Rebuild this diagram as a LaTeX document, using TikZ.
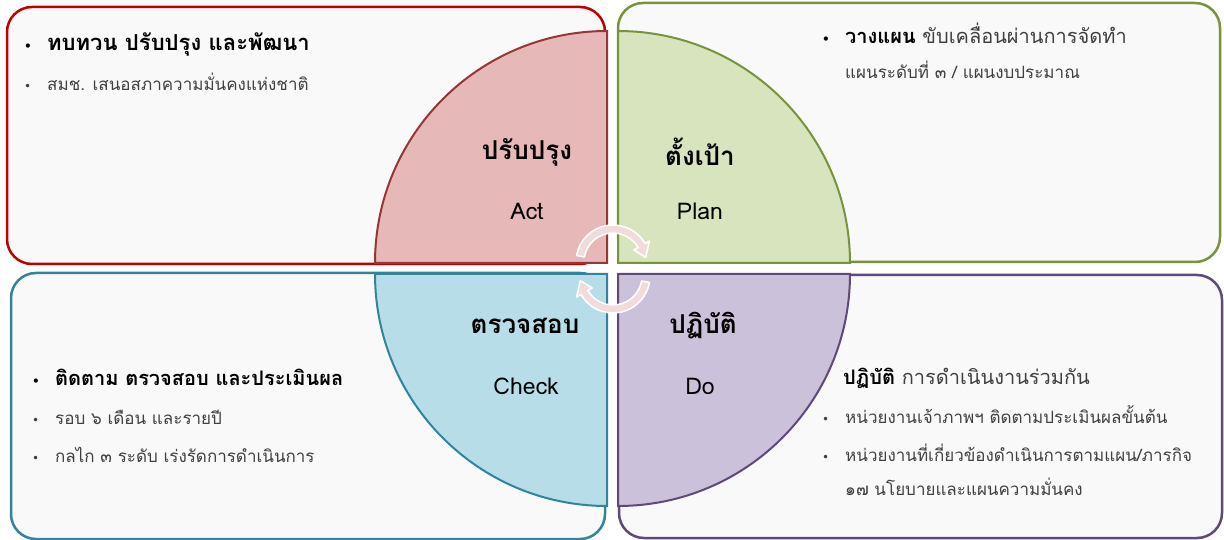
\documentclass[tikz,border=0pt]{standalone}
\usepackage{fontspec}
\setmainfont[Script=Thai]{Loma}
\newfontfamily\bulfont{DejaVu Sans}
\definecolor{panelbg}{HTML}{F9F9F9}
\definecolor{actline}{HTML}{C00000}
\definecolor{planline}{HTML}{77933C}
\definecolor{checkline}{HTML}{31849B}
\definecolor{doline}{HTML}{5F497A}
\definecolor{actedge}{HTML}{953735}
\definecolor{actfill}{HTML}{E6B9B8}
\definecolor{planfill}{HTML}{D7E4BD}
\definecolor{checkfill}{HTML}{B7DEE8}
\definecolor{dofill}{HTML}{CCC1DA}
\definecolor{arrowfill}{HTML}{F2DCDB}
\definecolor{itemgray}{HTML}{404040}
\newcommand{\bul}{\makebox[23pt][l]{\bulfont\fontsize{12}{12}\selectfont •}}

\begin{document}
\begin{tikzpicture}[x=1pt, y=-1pt,
  panel/.style={rounded corners=25, fill=panelbg, line width=2.5},
  quarter/.style={line width=2},
  cyclearrow/.style={fill=arrowfill, draw=white, line width=1.5, line join=round},
  qthai/.style={font=\bfseries\fontsize{26}{30}\selectfont},
  qeng/.style={font=\fontsize{23}{27}\selectfont},
  head/.style={anchor=base west, inner sep=0, font=\bfseries\fontsize{20}{24}\selectfont},
  item/.style={anchor=base west, inner sep=0, text=itemgray, font=\fontsize{17}{20}\selectfont}]
\useasboundingbox (0,0) rectangle (1224,540);
\fill[white] (0,0) rectangle (1224,540);

\draw[panel, draw=actline] (7,7) rectangle (605,264);
\draw[panel, draw=planline] (618,3) rectangle (1220,262);
\draw[panel, draw=checkline] (11,273) rectangle (605,539);
\draw[panel, draw=doline] (619,275) rectangle (1222,538);

\filldraw[quarter, draw=actedge, fill=actfill] (607,263) -- (375,263) arc[start angle=180, end angle=270, radius=232] -- cycle;
\filldraw[quarter, draw=planline, fill=planfill] (618,263) -- (618,31) arc[start angle=270, end angle=360, radius=232] -- cycle;
\filldraw[quarter, draw=doline, fill=dofill] (618,274) -- (850,274) arc[start angle=0, end angle=90, radius=232] -- cycle;
\filldraw[quarter, draw=checkline, fill=checkfill] (607,274) -- (607,506) arc[start angle=90, end angle=180, radius=232] -- cycle;

\filldraw[cyclearrow, shift={(613,262)}] (190:37) arc[start angle=190, end angle=330, radius=37]
  -- (330:42) -- (352:33) -- (330:24) -- (330:29) arc[start angle=330, end angle=190, radius=29] -- cycle;
\filldraw[cyclearrow, shift={(613,276)}] (10:37) arc[start angle=10, end angle=150, radius=37]
  -- (150:42) -- (172:33) -- (150:24) -- (150:29) arc[start angle=150, end angle=10, radius=29] -- cycle;

\node[qthai] (actth) at (527,152) {ปรับปรุง};
\node[qeng] (acten) at (527,211) {Act};
\node[qthai] (planth) at (700,152) {ตั้งเป้า};
\node[qeng] (planen) at (700,211) {Plan};
\node[qthai] (checkth) at (525,326) {ตรวจสอบ};
\node[qeng] (checken) at (526,386) {Check};
\node[qthai] (doth) at (703,326) {ปฏิบัติ};
\node[qeng] (doen) at (700,386) {Do};

\node[head, font=\bfseries\fontsize{22}{26}\selectfont] (acthead) at (24,51) {\bul ทบทวน ปรับปรุง และพัฒนา};
\node[item] (actitem) at (24,91) {\bul สมช. เสนอสภาความมั่นคงแห่งชาติ};

\node[head] (planhead) at (822,44) {\bul วางแผน {\mdseries\color{itemgray}ขับเคลื่อนผ่านการจัดทำ}};
\node[item] (planitem) at (845,79) {แผนระดับที่ ๓ / แผนงบประมาณ};

\node[head] (checkhead) at (32,385) {\bul ติดตาม ตรวจสอบ และประเมินผล};
\node[item] (checkitema) at (32,424) {\bul รอบ ๖ เดือน และรายปี};
\node[item] (checkitemb) at (32,462) {\bul กลไก ๓ ระดับ เร่งรัดการดำเนินการ};

\node[head] (dohead) at (843,384) {ปฏิบัติ {\mdseries\color{itemgray}การดำเนินงานร่วมกัน}};
\node[item] (doitema) at (822,423) {\bul หน่วยงานเจ้าภาพฯ ติดตามประเมินผลขั้นต้น};
\node[item] (doitemb) at (822,461) {\bul หน่วยงานที่เกี่ยวข้องดำเนินการตามแผน/ภารกิจ};
\node[item] (doitemc) at (845,495) {๑๗ นโยบายและแผนความมั่นคง};
\end{tikzpicture}
\end{document}
